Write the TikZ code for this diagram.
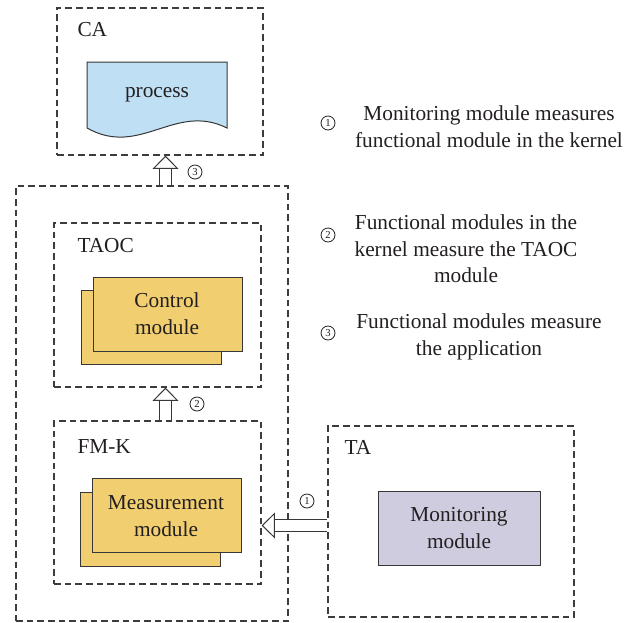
\documentclass[tikz,border=0pt]{standalone}
\usepackage{fontspec}
\setmainfont{Liberation Serif}
\newfontfamily\figserif{Liberation Serif}
\usetikzlibrary{arrows.meta,fit}

\definecolor{dashgray}{RGB}{60,60,60}
\definecolor{edgegray}{RGB}{55,55,55}
\definecolor{txtgray}{RGB}{35,31,32}
\definecolor{procblue}{RGB}{191,224,244}
\definecolor{modyellow}{RGB}{241,207,112}
\definecolor{monlilac}{RGB}{208,204,224}

\newcommand\figfont{\figserif\fontsize{16}{20}\selectfont}

\tikzset{every picture/.style={line width=0.75pt}}
\tikzset{
  dashbox/.style={draw=dashgray, line width=0.9pt, dash pattern=on 5pt off 3pt, inner sep=0pt},
  modbox/.style={draw=edgegray, fill=modyellow, inner sep=0pt},
  figtxt/.style={inner sep=0pt, align=center, font=\figfont, text=txtgray},
  boxlabel/.style={figtxt, anchor=west},
  stepnum/.style={circle, draw=txtgray, line width=0.6pt, inner sep=0pt, minimum size=10.5pt, font=\figserif\fontsize{8}{8}\selectfont, text=txtgray},
  hollowarrow/.style={draw=edgegray, double=white, double distance=7.9pt,
    -{Triangle[open, fill=white, length=10pt 0 0, width=19.5pt 0 0, line width=0.75pt 0 0]}}
}

\begin{document}
\begin{tikzpicture}[x=0.75pt,y=0.75pt,yscale=-1,xscale=1]
\useasboundingbox (0,0) rectangle (624,622);

%Dashed Rect: outer
\node [dashbox, fit={(16,186) (288,621)}] (outer) {};
%Dashed Rect: CA
\node [dashbox, fit={(57,8) (263,155)}] (ca) {};
%Dashed Rect: TAOC
\node [dashbox, fit={(54,223) (261,387)}] (taoc) {};
%Dashed Rect: FM-K
\node [dashbox, fit={(54,421) (261,584)}] (fmk) {};
%Dashed Rect: TA
\node [dashbox, fit={(328,426) (574,617)}] (ta) {};

%Shape: Document
\draw [draw=edgegray, fill=procblue] (87,62) -- (227,62) -- (227,128) .. controls (175,102) and (140,158) .. (87,128) -- cycle ;
% Text Node
\node [figtxt] (proc) at (157,95) {process};

%Stacked Rects: control module
\node [modbox, fit={(81,290) (221,364)}] (ctrlback) {};
\node [modbox, fit={(93,277) (242,351)}] (ctrl) {};
\node [figtxt] (ctrltxt) at (167,314) {Control\\module};
%Stacked Rects: measurement module
\node [modbox, fit={(80,492) (220,566)}] (measback) {};
\node [modbox, fit={(92,478) (241,552)}] (meas) {};
\node [figtxt] (meastxt) at (166,516) {Measurement\\module};
%Rect: monitoring module
\node [modbox, fill=monlilac, fit={(378,491) (540,565)}] (mon) {};
\node [figtxt] (montxt) at (459,528) {Monitoring\\module};

% Text Node
\node [boxlabel] (calbl) at (77,30) {CA};
\node [boxlabel] (taoclbl) at (77,246) {TAOC};
\node [boxlabel] (fmklbl) at (77,447) {FM-K};
\node [boxlabel] (talbl) at (344,447) {TA};

%Block Arrows
\coordinate (spine) at (165.5,0);
\coordinate (lvl) at (0,525.5);
\draw [hollowarrow] (outer.north -| spine) -- (ca.south -| spine) ;
\draw [hollowarrow] (fmk.north -| spine) -- (taoc.south -| spine) ;
\draw [hollowarrow] (ta.west |- lvl) -- (fmk.east |- lvl) ;

%Step marks
\node [stepnum] (s3) at (195,172) {3};
\node [stepnum] (s2) at (197,404) {2};
\node [stepnum] (s1) at (307,501) {1};

%Legend
\node [stepnum] (k1) at (328,123) {1};
\node [figtxt] (k1txt) at (489,127) {Monitoring module measures\\functional module in the kernel};
\node [stepnum] (k2) at (328,235) {2};
\node [figtxt] (k2txt) at (466,249) {Functional modules in the\\kernel measure the TAOC\\module};
\node [stepnum] (k3) at (328,333) {3};
\node [figtxt] (k3txt) at (479,337) {Functional modules measure\\the application};

\end{tikzpicture}
\end{document}
